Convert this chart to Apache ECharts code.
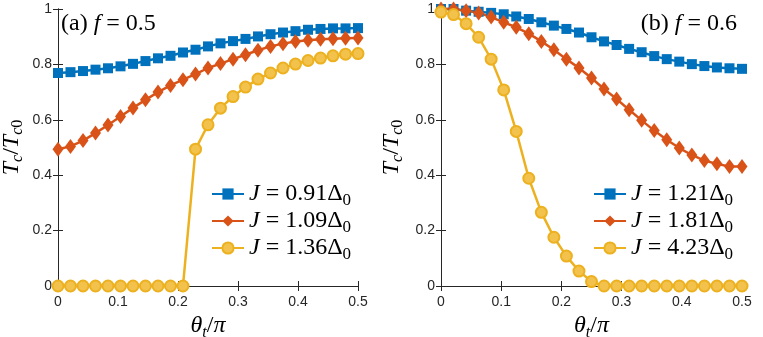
<!DOCTYPE html>
<html>
<head>
<meta charset="utf-8">
<script src="https://cdn.jsdelivr.net/npm/echarts@6/dist/echarts.min.js"></script>
<style>
  html, body { margin: 0; padding: 0; background: #fff; }
  #main { width: 763px; height: 337px; }
</style>
</head>
<body>
<div id="main"></div>
<script>
// theta_t / pi 取值（25 个点）
var theta = [0, 0.0208, 0.0417, 0.0625, 0.0833, 0.1042, 0.125, 0.1458, 0.1667, 0.1875,
  0.2083, 0.2292, 0.25, 0.2708, 0.2917, 0.3125, 0.3333, 0.3542, 0.375, 0.3958,
  0.4167, 0.4375, 0.4583, 0.4792, 0.5];

// (a) f = 0.5
var namesA = ['0.91', '1.09', '1.36'];
var blueA = [0.769, 0.772, 0.776, 0.781, 0.786, 0.793, 0.802, 0.812, 0.822, 0.831,
  0.843, 0.853, 0.865, 0.876, 0.884, 0.892, 0.901, 0.909, 0.915, 0.920,
  0.925, 0.928, 0.930, 0.930, 0.931];
var redA = [0.494, 0.504, 0.525, 0.552, 0.581, 0.612, 0.643, 0.672, 0.700, 0.724,
  0.745, 0.765, 0.787, 0.803, 0.819, 0.835, 0.851, 0.865, 0.875, 0.883,
  0.887, 0.891, 0.893, 0.894, 0.895];
var yellowA = [0, 0, 0, 0, 0, 0, 0, 0, 0, 0,
  0, 0.494, 0.582, 0.642, 0.684, 0.718, 0.747, 0.769, 0.787, 0.801,
  0.814, 0.823, 0.831, 0.837, 0.839];

// (b) f = 0.6
var namesB = ['1.21', '1.81', '4.23'];
var blueB = [1.0, 1.0, 0.994, 0.990, 0.986, 0.981, 0.973, 0.964, 0.952, 0.940,
  0.928, 0.915, 0.898, 0.883, 0.870, 0.856, 0.844, 0.830, 0.819, 0.810,
  0.801, 0.794, 0.789, 0.786, 0.784];
var redB = [1.0, 1.0, 0.994, 0.986, 0.971, 0.952, 0.934, 0.911, 0.883, 0.853,
  0.819, 0.787, 0.751, 0.711, 0.675, 0.636, 0.598, 0.561, 0.528, 0.498,
  0.473, 0.453, 0.441, 0.431, 0.431];
var yellowB = [0.989, 0.980, 0.947, 0.898, 0.819, 0.708, 0.558, 0.389, 0.266, 0.176,
  0.108, 0.054, 0.016, 0, 0, 0, 0, 0, 0, 0,
  0, 0, 0, 0, 0];

var serif = "'Liberation Serif', 'DejaVu Serif', serif";
var sans = "'Liberation Sans', sans-serif";
var axisColor = '#262626';

function pairs(ys) {
  return theta.map(function (t, i) { return [t, ys[i]]; });
}

// 数学公式样式（正体 / 斜体 / 下标）
function makeRich(size, subSize, drop) {
  return {
    n: { fontFamily: serif, fontSize: size, fontWeight: 'normal', color: '#000' },
    i: { fontFamily: serif, fontSize: size, fontWeight: 'normal', fontStyle: 'italic', color: '#000' },
    si: { fontFamily: serif, fontSize: subSize, fontWeight: 'normal', fontStyle: 'italic', color: '#000', padding: [drop, 0, 0, 0] },
    s: { fontFamily: serif, fontSize: subSize, fontWeight: 'normal', color: '#000', padding: [drop, 0, 0, 0] }
  };
}
var axisRich = makeRich(24, 16, 13);
var legendRich = makeRich(24, 17, 13);
var titleRich = makeRich(24, 16, 12);

function xAxisPair(g) {
  var base = {
    gridIndex: g, type: 'value', min: 0, max: 0.5, interval: 0.1,
    axisLine: { lineStyle: { color: axisColor, width: 1 } },
    axisTick: { inside: true, length: 5, lineStyle: { color: axisColor } },
    splitLine: { show: false }
  };
  return [
    Object.assign({}, base, {
      position: 'bottom',
      axisLabel: { fontFamily: sans, fontSize: 14, color: axisColor, margin: 9 },
      name: '{i|θ}{si|t}{n|/}{i|π}',
      nameLocation: 'middle', nameGap: 20,
      nameTextStyle: { rich: axisRich }
    }),
    Object.assign({}, base, { position: 'top', axisLabel: { show: false } })
  ];
}

function yAxisPair(g, gap) {
  var base = {
    gridIndex: g, type: 'value', min: 0, max: 1, interval: 0.2,
    axisLine: { show: true, lineStyle: { color: axisColor, width: 1 } },
    axisTick: { show: true, inside: true, length: 5, lineStyle: { color: axisColor } },
    splitLine: { show: false }
  };
  return [
    Object.assign({}, base, {
      position: 'left',
      axisLabel: { fontFamily: sans, fontSize: 14, color: axisColor, margin: 6 },
      name: '{i|T}{si|c}{n|/}{i|T}{si|c}{s|0}',
      nameLocation: 'middle', nameGap: gap,
      nameTextStyle: { rich: axisRich }
    }),
    Object.assign({}, base, { position: 'right', axisLabel: { show: false } })
  ];
}

function lineSeries(name, ys, g, kind) {
  var s = {
    name: name, type: 'line', xAxisIndex: g * 2, yAxisIndex: g * 2,
    data: pairs(ys), clip: false, animation: false
  };
  if (kind === 0) {
    s.symbol = 'rect'; s.symbolSize = 10;
    s.lineStyle = { color: '#0072BD', width: 2.5 };
    s.itemStyle = { color: '#0072BD' };
  } else if (kind === 1) {
    s.symbol = 'diamond'; s.symbolSize = [11, 15];
    s.lineStyle = { color: '#D95319', width: 2.5 };
    s.itemStyle = { color: '#D95319' };
  } else {
    s.symbol = 'circle'; s.symbolSize = 11;
    s.lineStyle = { color: '#EDB120', width: 2.5 };
    s.itemStyle = { color: '#F2C24C', borderColor: '#EDB120', borderWidth: 2 };
  }
  return s;
}

function legendFor(names, left) {
  return {
    orient: 'vertical', left: left, top: 177, itemGap: 0,
    itemWidth: 32, itemHeight: 14,
    data: names.map(function (n) { return 'J = ' + n; }),
    formatter: function (name) {
      return '{i|J}{n| = ' + name.slice(4) + 'Δ}{s|0}';
    },
    textStyle: { rich: legendRich }
  };
}

var myChart = echarts.init(document.getElementById('main'));

var option = {
  backgroundColor: '#fff',
  animation: false,
  title: [
    { text: '{n|(a)}{i| f}{n| = 0.5}', left: 61, top: 12, padding: 0, textStyle: { fontWeight: 'normal', rich: titleRich } },
    { text: '{n|(b)}{i| f}{n| = 0.6}', right: 26, top: 12, padding: 0, textStyle: { fontWeight: 'normal', rich: titleRich } }
  ],
  grid: [
    { left: 58, right: 405, top: 9, bottom: 51, outerBoundsMode: 'none' },
    { left: 441, right: 21, top: 9, bottom: 51, outerBoundsMode: 'none' }
  ],
  xAxis: xAxisPair(0).concat(xAxisPair(1)),
  yAxis: yAxisPair(0, 32).concat(yAxisPair(1, 35)),
  legend: [legendFor(namesA, 206), legendFor(namesB, 588)],
  series: [
    lineSeries('J = ' + namesA[0], blueA, 0, 0),
    lineSeries('J = ' + namesA[1], redA, 0, 1),
    lineSeries('J = ' + namesA[2], yellowA, 0, 2),
    lineSeries('J = ' + namesB[0], blueB, 1, 0),
    lineSeries('J = ' + namesB[1], redB, 1, 1),
    lineSeries('J = ' + namesB[2], yellowB, 1, 2)
  ]
};

myChart.setOption(option);
</script>
</body>
</html>
